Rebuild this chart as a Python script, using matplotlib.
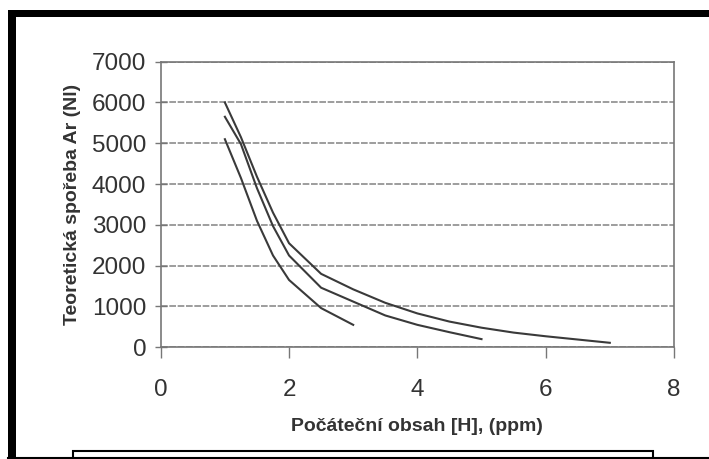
import matplotlib
matplotlib.use("Agg")
import matplotlib.pyplot as plt
from matplotlib.patches import Rectangle
from matplotlib.lines import Line2D

# Data
x_top = [1.0, 1.25, 1.5, 1.75, 2.0, 2.5, 3.0, 3.5, 4.0, 4.5, 5.0, 5.5, 6.0, 6.5, 7.0]
y_top = [6000, 5150, 4180, 3300, 2550, 1800, 1420, 1090, 830, 630, 480, 360, 270, 190, 110]

x_mid = [1.0, 1.25, 1.5, 1.75, 2.0, 2.5, 3.0, 3.5, 4.0, 4.5, 5.0]
y_mid = [5650, 4980, 3900, 2970, 2250, 1460, 1120, 780, 550, 370, 200]

x_low = [1.0, 1.25, 1.5, 1.75, 2.0, 2.5, 3.0]
y_low = [5100, 4150, 3100, 2250, 1650, 960, 550]

x_ticks = [0, 2, 4, 6, 8]
y_ticks = [0, 1000, 2000, 3000, 4000, 5000, 6000, 7000]

plt.rcParams["font.family"] = ["Liberation Sans", "DejaVu Sans"]

fig = plt.figure(figsize=(7.09, 4.59), dpi=100)
ax = fig.add_axes([0.2267, 0.2434, 0.7239, 0.6222])

# The three curves
for xs, ys in [(x_top, y_top), (x_mid, y_mid), (x_low, y_low)]:
    ax.plot(xs, ys, color="#3a3a3a", linewidth=1.5)

ax.set_xlim(0, 8)
ax.set_ylim(0, 7000)
ax.set_xticks(x_ticks)
ax.set_yticks(y_ticks)

# Grey textured gridlines like the scanned original
ax.yaxis.grid(True, color="#8c8c8c", linewidth=1.2, linestyle=(0, (4, 1)))
ax.set_axisbelow(True)

for side in ["left", "right", "top", "bottom"]:
    ax.spines[side].set_color("#777777")
    ax.spines[side].set_linewidth(1.2)
    ax.spines[side].set_linestyle((0, (4, 1)))

ax.tick_params(axis="y", direction="inout", length=9, width=1, color="#777777",
               labelsize=17.5, labelcolor="#333333", pad=6)
ax.tick_params(axis="x", direction="out", length=8, width=1, color="#777777",
               labelsize=17.5, labelcolor="#333333", pad=15)

ax.set_xlabel("Počáteční obsah [H], (ppm)", fontsize=14, fontweight="bold",
              color="#333333", labelpad=12)
ax.set_ylabel("Teoretická spořeba Ar (Nl)", fontsize=14, fontweight="bold",
              color="#333333", labelpad=8)

# Black frame around the chart (top and left bars, thin bottom line)
fig.patches.append(Rectangle((8 / 709, 1 - 17 / 459), 1 - 8 / 709, 7 / 459,
                             transform=fig.transFigure, facecolor="black",
                             edgecolor="none"))
fig.patches.append(Rectangle((8 / 709, 0), 8 / 709, 1 - 10 / 459,
                             transform=fig.transFigure, facecolor="black",
                             edgecolor="none"))
fig.lines.append(Line2D([8 / 709, 1], [1.5 / 459, 1.5 / 459],
                        transform=fig.transFigure, color="black", linewidth=1.5))

# Cut-off legend box at the bottom
fig.patches.append(Rectangle((73 / 709, -0.05), 580 / 709, 0.05 + 8 / 459,
                             transform=fig.transFigure, facecolor="white",
                             edgecolor="black", linewidth=1.5))

fig.savefig("out.png", dpi=100)
